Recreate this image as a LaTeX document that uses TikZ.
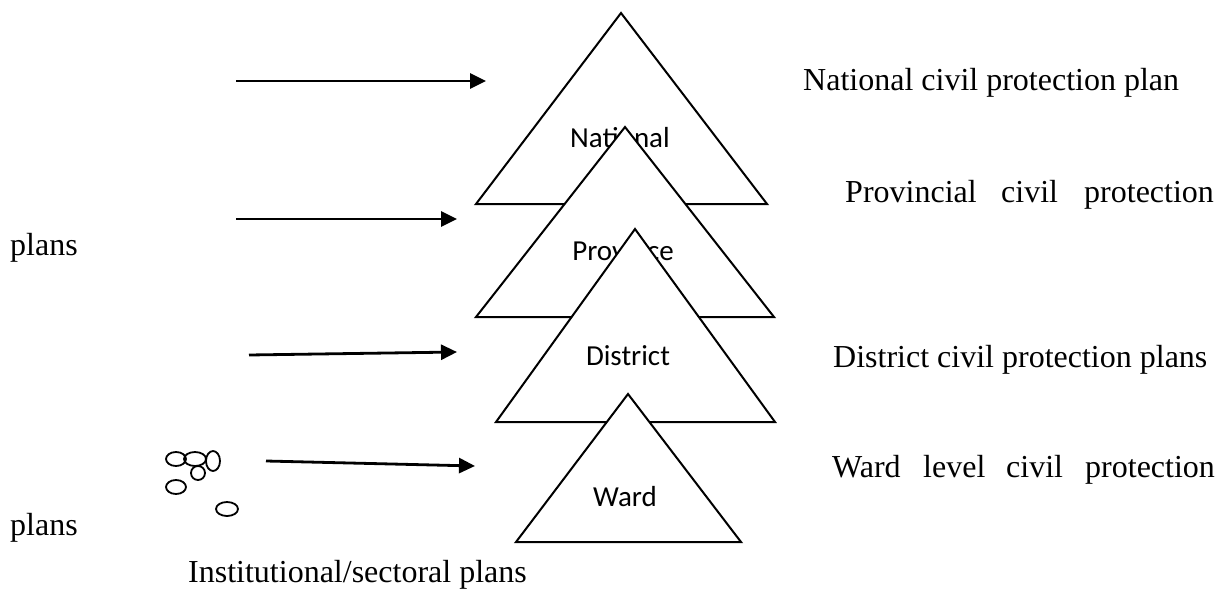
\documentclass[tikz,border=0pt]{standalone}
\usepackage{fontspec}
\usetikzlibrary{arrows.meta}
\newfontfamily\tnrfont{Liberation Serif}
\newfontfamily\calfont{Carlito}
\begin{document}
\begin{tikzpicture}[x=1pt,y=-1pt,
  tri/.style={draw=black,line width=2pt,fill=white,line join=miter},
  lvl/.style={font=\calfont\fontsize{29}{34}\selectfont,anchor=base,inner sep=0pt},
  txt/.style={font=\tnrfont\fontsize{32}{38}\selectfont,anchor=base west,inner sep=0pt},
  arr/.style={line width=2.8pt,-{Triangle[length=16pt,width=15pt]}},
  blob/.style={draw=black,line width=1.8pt}]
\useasboundingbox (0,0) rectangle (1226,591);
% triangles
\draw[tri] (621,13) -- (767,204) -- (476,204) -- cycle;
\node[lvl] (lnat) at (620,147) {National};
\draw[tri] (625,127) -- (774,317) -- (476,317) -- cycle;
\node[lvl] (lprov) at (623,260) {Province};
\draw[tri] (635,229) -- (775,422) -- (496,422) -- cycle;
\node[lvl] (ldist) at (628,365) {District};
\draw[tri] (628,394) -- (741,542) -- (516,542) -- cycle;
\node[lvl] (lward) at (625,506) {Ward};
% arrows
\coordinate (a1s) at (236,81);  \coordinate (a1e) at (486,81);
\coordinate (a2s) at (236,219); \coordinate (a2e) at (457,219);
\coordinate (a3s) at (249,355); \coordinate (a3e) at (457,352);
\coordinate (a4s) at (266,461); \coordinate (a4e) at (475,466);
\draw[arr] (a1s) -- (a1e);
\draw[arr] (a2s) -- (a2e);
\draw[arr] (a3s) -- (a3e);
\draw[arr] (a4s) -- (a4e);
% small ellipses
\draw[blob] (176,459) ellipse [x radius=10pt, y radius=7pt];
\draw[blob] (195,459) ellipse [x radius=11pt, y radius=7pt];
\draw[blob] (213,461) ellipse [x radius=7pt, y radius=10pt];
\draw[blob] (198,473) ellipse [x radius=7pt, y radius=7pt];
\draw[blob] (176,487) ellipse [x radius=10pt, y radius=7pt];
\draw[blob] (227,509) ellipse [x radius=11pt, y radius=7pt];
% texts
\node[txt] (tnat) at (803,91) {National civil protection plan};
\node[txt] (tprov1) at (845,202) {Provincial};
\node[txt] (tprov2) at (1001,202) {civil};
\node[txt] (tprov3) at (1084,202) {protection};
\node[txt] (tplans1) at (10,255) {plans};
\node[txt] (tdist) at (833,367) {District civil protection plans};
\node[txt] (tward1) at (832,477) {Ward};
\node[txt] (tward2) at (923,477) {level};
\node[txt] (tward3) at (1006,477) {civil};
\node[txt] (tward4) at (1085,477) {protection};
\node[txt] (tplans2) at (10,535) {plans};
\node[txt] (tinst) at (188,582) {Institutional/sectoral plans};
\end{tikzpicture}
\end{document}
